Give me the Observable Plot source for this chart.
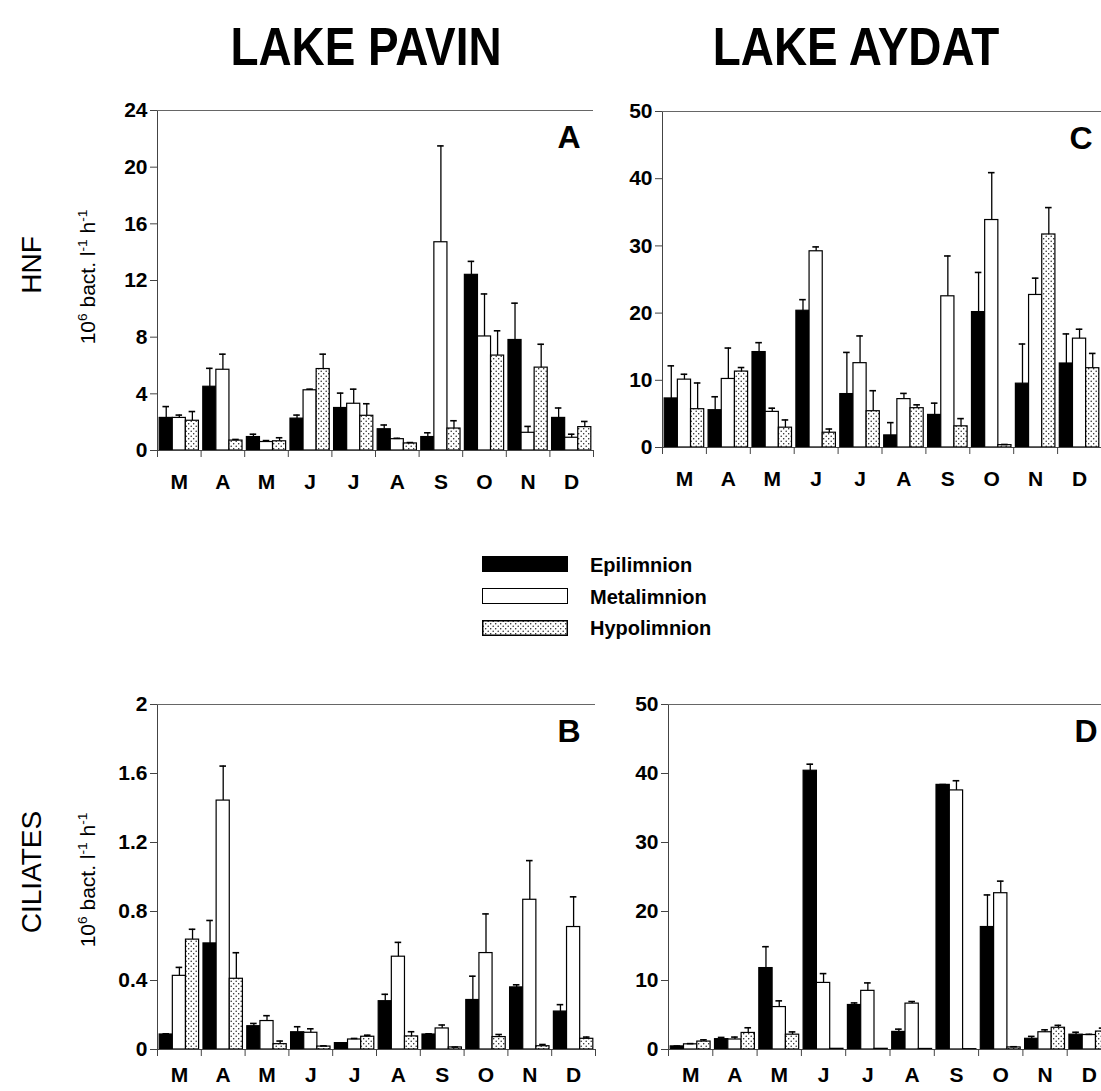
<!DOCTYPE html>
<html><head><meta charset="utf-8">
<script src="https://cdn.jsdelivr.net/npm/d3@7"></script>
<script src="https://cdn.jsdelivr.net/npm/@observablehq/plot@0.6"></script>
<style>
html,body{margin:0;padding:0;background:#fff;}
#root{position:relative;width:1101px;height:1091px;overflow:hidden;font-family:"Liberation Sans",Arial,Helvetica,sans-serif;color:#000;}
.title{position:absolute;font-weight:bold;font-size:54px;line-height:1;white-space:nowrap;transform:translate(-50%,-50%) scaleX(0.85);}
.vlab{position:absolute;white-space:nowrap;line-height:1;transform:translate(-50%,-50%) rotate(-90deg);}
.vlab sup{font-size:0.65em;vertical-align:0.55em;}
.panel{position:absolute;}
.panel svg{max-width:none !important;}
.sw{position:absolute;left:482px;width:86px;height:16px;box-sizing:border-box;border:1.5px solid #000;}
.lt{position:absolute;left:590px;font-weight:bold;font-size:20px;line-height:1;transform:translateY(-50%);}
</style></head>
<body><div id="root">
<svg width="0" height="0" style="position:absolute"><defs>
<pattern id="dots" width="5" height="5" patternUnits="userSpaceOnUse">
<rect width="5" height="5" fill="#fff"/><circle cx="1.2" cy="1.2" r="0.75" fill="#222"/><circle cx="3.7" cy="3.7" r="0.75" fill="#222"/>
</pattern></defs></svg>

<div class="title" style="left:366px;top:46px;">LAKE PAVIN</div>
<div class="title" style="left:856px;top:46px;">LAKE AYDAT</div>

<div class="vlab" style="left:32px;top:265px;font-size:28px;">HNF</div>
<div class="vlab" style="left:87px;top:277px;font-size:21px;">10<sup>6</sup> bact. l<sup>-1</sup> h<sup>-1</sup></div>
<div class="vlab" style="left:32px;top:872px;font-size:28px;">CILIATES</div>
<div class="vlab" style="left:87px;top:880px;font-size:21px;">10<sup>6</sup> bact. l<sup>-1</sup> h<sup>-1</sup></div>

<div class="sw" style="top:556px;background:#000;"></div>
<div class="sw" style="top:588px;background:#fff;"></div>
<svg style="position:absolute;left:482px;top:620px;" width="86" height="16"><rect x="0.75" y="0.75" width="84.5" height="14.5" fill="url(#dots)" stroke="#000" stroke-width="1.5"/></svg>
<div class="lt" style="top:565px;">Epilimnion</div>
<div class="lt" style="top:597px;">Metalimnion</div>
<div class="lt" style="top:628px;">Hypolimnion</div>

<div id="pA" class="panel" style="left:0px;top:80px;width:600px;"></div>
<div id="pC" class="panel" style="left:600px;top:80px;width:501px;"></div>
<div id="pB" class="panel" style="left:0px;top:680px;width:600px;"></div>
<div id="pD" class="panel" style="left:600px;top:680px;width:520px;"></div>
</div>
<script>
// ---- Data ----
const months = ["M","A","M","J","J","A","S","O","N","D"];
const layerNames = ["Epilimnion","Metalimnion","Hypolimnion"];

// Lake Pavin, HNF (A)
const pavinHnfEpi    = [2.3, 4.5, 0.95, 2.25, 3.0, 1.5, 0.95, 12.4, 7.8, 2.3];
const pavinHnfEpiErr = [3.1, 5.8, 1.15, 2.5, 4.05, 1.8, 1.25, 13.35, 10.4, 3.0];
const pavinHnfMeta    = [2.3, 5.7, 0.6, 4.25, 3.3, 0.8, 14.7, 8.05, 1.25, 0.9];
const pavinHnfMetaErr = [2.5, 6.8, 0.7, 4.33, 4.33, 0.86, 21.5, 11.05, 1.7, 1.15];
const pavinHnfHypo    = [2.1, 0.7, 0.65, 5.75, 2.45, 0.5, 1.55, 6.7, 5.85, 1.65];
const pavinHnfHypoErr = [2.75, 0.78, 0.9, 6.8, 3.3, 0.56, 2.1, 8.45, 7.5, 2.05];

// Lake Aydat, HNF (C)
const aydatHnfEpi    = [7.3, 5.55, 14.2, 20.35, 7.95, 1.8, 4.85, 20.15, 9.5, 12.5];
const aydatHnfEpiErr = [12.15, 7.55, 15.6, 22.0, 14.15, 3.7, 6.6, 26.05, 15.4, 16.9];
const aydatHnfMeta    = [10.1, 10.2, 5.3, 29.2, 12.55, 7.2, 22.5, 33.85, 22.7, 16.2];
const aydatHnfMetaErr = [10.9, 14.8, 5.85, 29.85, 16.6, 8.05, 28.5, 40.9, 25.2, 17.6];
const aydatHnfHypo    = [5.7, 11.3, 2.95, 2.2, 5.4, 5.85, 3.15, 0.35, 31.7, 11.8];
const aydatHnfHypoErr = [9.6, 11.9, 4.1, 2.75, 8.45, 6.35, 4.3, 0.45, 35.7, 14.0];

// Lake Pavin, ciliates (B)
const pavinCilEpi    = [0.087, 0.615, 0.135, 0.1, 0.037, 0.28, 0.087, 0.287, 0.36, 0.22];
const pavinCilEpiErr = [0.091, 0.748, 0.151, 0.132, 0.039, 0.32, 0.091, 0.425, 0.375, 0.26];
const pavinCilMeta    = [0.427, 1.443, 0.165, 0.097, 0.058, 0.538, 0.122, 0.559, 0.868, 0.71];
const pavinCilMetaErr = [0.476, 1.643, 0.196, 0.12, 0.064, 0.621, 0.142, 0.786, 1.095, 0.885];
const pavinCilHypo    = [0.637, 0.41, 0.031, 0.017, 0.074, 0.076, 0.012, 0.072, 0.019, 0.062];
const pavinCilHypoErr = [0.697, 0.561, 0.049, 0.021, 0.083, 0.103, 0.014, 0.087, 0.029, 0.072];

// Lake Aydat, ciliates (D)
const aydatCilEpi    = [0.45, 1.5, 11.8, 40.4, 6.45, 2.55, 38.35, 17.75, 1.55, 2.15];
const aydatCilEpiErr = [0.5, 1.75, 14.9, 41.35, 6.75, 2.95, 38.4, 22.4, 1.9, 2.5];
const aydatCilMeta    = [0.75, 1.45, 6.15, 9.65, 8.5, 6.65, 37.55, 22.65, 2.5, 2.1];
const aydatCilMetaErr = [0.85, 1.8, 7.05, 11.0, 9.65, 6.95, 38.95, 24.4, 2.85, 2.2];
const aydatCilHypo    = [1.15, 2.4, 2.15, 0.1, 0.1, 0.08, 0.05, 0.3, 3.15, 2.6];
const aydatCilHypoErr = [1.4, 3.15, 2.55, 0.1, 0.1, 0.08, 0.05, 0.4, 3.5, 3.1];

// ---- Drawing ----
const BW = 0.3, PAD = 0.05;
const FILLS = ["#000", "#fff", "url(#dots)"];
const FONT = '"Liberation Sans", Arial, Helvetica, sans-serif';

function rows(vals, errs, j) {
  return vals.map((v, i) => ({
    i, v, e: errs[i], layer: layerNames[j],
    x1: i + PAD + j * BW, x2: i + PAD + (j + 1) * BW, xc: i + PAD + (j + 0.5) * BW
  }));
}

function panel(cfg) {
  const sets = [rows(cfg.epi, cfg.epiE, 0), rows(cfg.meta, cfg.metaE, 1), rows(cfg.hypo, cfg.hypoE, 2)];
  const all = sets.flat();
  const errs = all.filter(d => d.e > d.v);
  const marks = [];
  sets.forEach((s, j) => marks.push(Plot.rectY(s, {x1: "x1", x2: "x2", y1: 0, y2: "v", fill: FILLS[j], stroke: "#000", strokeWidth: 1.2})));
  marks.push(Plot.ruleX(errs, {x: "xc", y1: "v", y2: "e", stroke: "#000", strokeWidth: 1.3}));
  marks.push(Plot.ruleY(errs, {y: "e", x1: d => d.xc - 0.075, x2: d => d.xc + 0.075, stroke: "#000", strokeWidth: 1.6}));
  marks.push(Plot.ruleX([0], {stroke: "#444", strokeWidth: 1}));
  marks.push(Plot.ruleY([0], {stroke: "#444", strokeWidth: 1}));
  marks.push(Plot.ruleY([cfg.yMax], {stroke: "#666", strokeWidth: 1}));
  marks.push(Plot.axisY({ticks: cfg.yTicks, tickSize: 7, tickPadding: 3, tickFormat: cfg.yFmt, fontSize: 21, label: null, stroke: "#444"}));
  marks.push(Plot.axisX({ticks: d3.range(0, 11), tickSize: 7, tickFormat: () => "", label: null, stroke: "#444"}));
  marks.push(Plot.axisX({ticks: d3.range(10).map(i => i + 0.5), tickSize: 0, tickPadding: cfg.mPad, tickFormat: d => months[Math.floor(d)], fontSize: 21, label: null}));
  marks.push(Plot.text([cfg.letter], {text: d => d, frameAnchor: "top-right", textAnchor: "end", lineAnchor: "bottom", dx: cfg.ldx, dy: 37, fontSize: 32}));
  const chart = Plot.plot({
    width: cfg.width, height: cfg.height,
    marginLeft: cfg.mL, marginRight: cfg.mR, marginTop: cfg.mT, marginBottom: cfg.mB,
    x: {type: "linear", domain: [0, 10], axis: null},
    y: {domain: [0, cfg.yMax], axis: null},
    style: {fontFamily: FONT, fontSize: "21px", fontWeight: "bold", background: "transparent", overflow: "visible", color: "#000", maxWidth: "none"},
    marks
  });
  document.getElementById(cfg.id).appendChild(chart);
}

panel({id: "pA", width: 600, height: 430, mL: 157, mR: 7, mT: 30, mB: 60, mPad: 24, yMax: 24, yTicks: [0,4,8,12,16,20,24], yFmt: d => String(d), letter: "A", ldx: -13,
  epi: pavinHnfEpi, epiE: pavinHnfEpiErr, meta: pavinHnfMeta, metaE: pavinHnfMetaErr, hypo: pavinHnfHypo, hypoE: pavinHnfHypoErr});
panel({id: "pC", width: 501, height: 427, mL: 62, mR: 0, mT: 31, mB: 60, mPad: 24, yMax: 50, yTicks: [0,10,20,30,40,50], yFmt: d => String(d), letter: "C", ldx: -9,
  epi: aydatHnfEpi, epiE: aydatHnfEpiErr, meta: aydatHnfMeta, metaE: aydatHnfMetaErr, hypo: aydatHnfHypo, hypoE: aydatHnfHypoErr});
panel({id: "pB", width: 600, height: 411, mL: 157, mR: 5, mT: 24, mB: 42, mPad: 18, yMax: 2, yTicks: [0,0.4,0.8,1.2,1.6,2], yFmt: d => String(d), letter: "B", ldx: -15,
  epi: pavinCilEpi, epiE: pavinCilEpiErr, meta: pavinCilMeta, metaE: pavinCilMetaErr, hypo: pavinCilHypo, hypoE: pavinCilHypoErr});
panel({id: "pD", width: 520, height: 411, mL: 68, mR: 9, mT: 24, mB: 42, mPad: 18, yMax: 50, yTicks: [0,10,20,30,40,50], yFmt: d => String(d), letter: "D", ldx: -14,
  epi: aydatCilEpi, epiE: aydatCilEpiErr, meta: aydatCilMeta, metaE: aydatCilMetaErr, hypo: aydatCilHypo, hypoE: aydatCilHypoErr});
</script>
</body></html>
